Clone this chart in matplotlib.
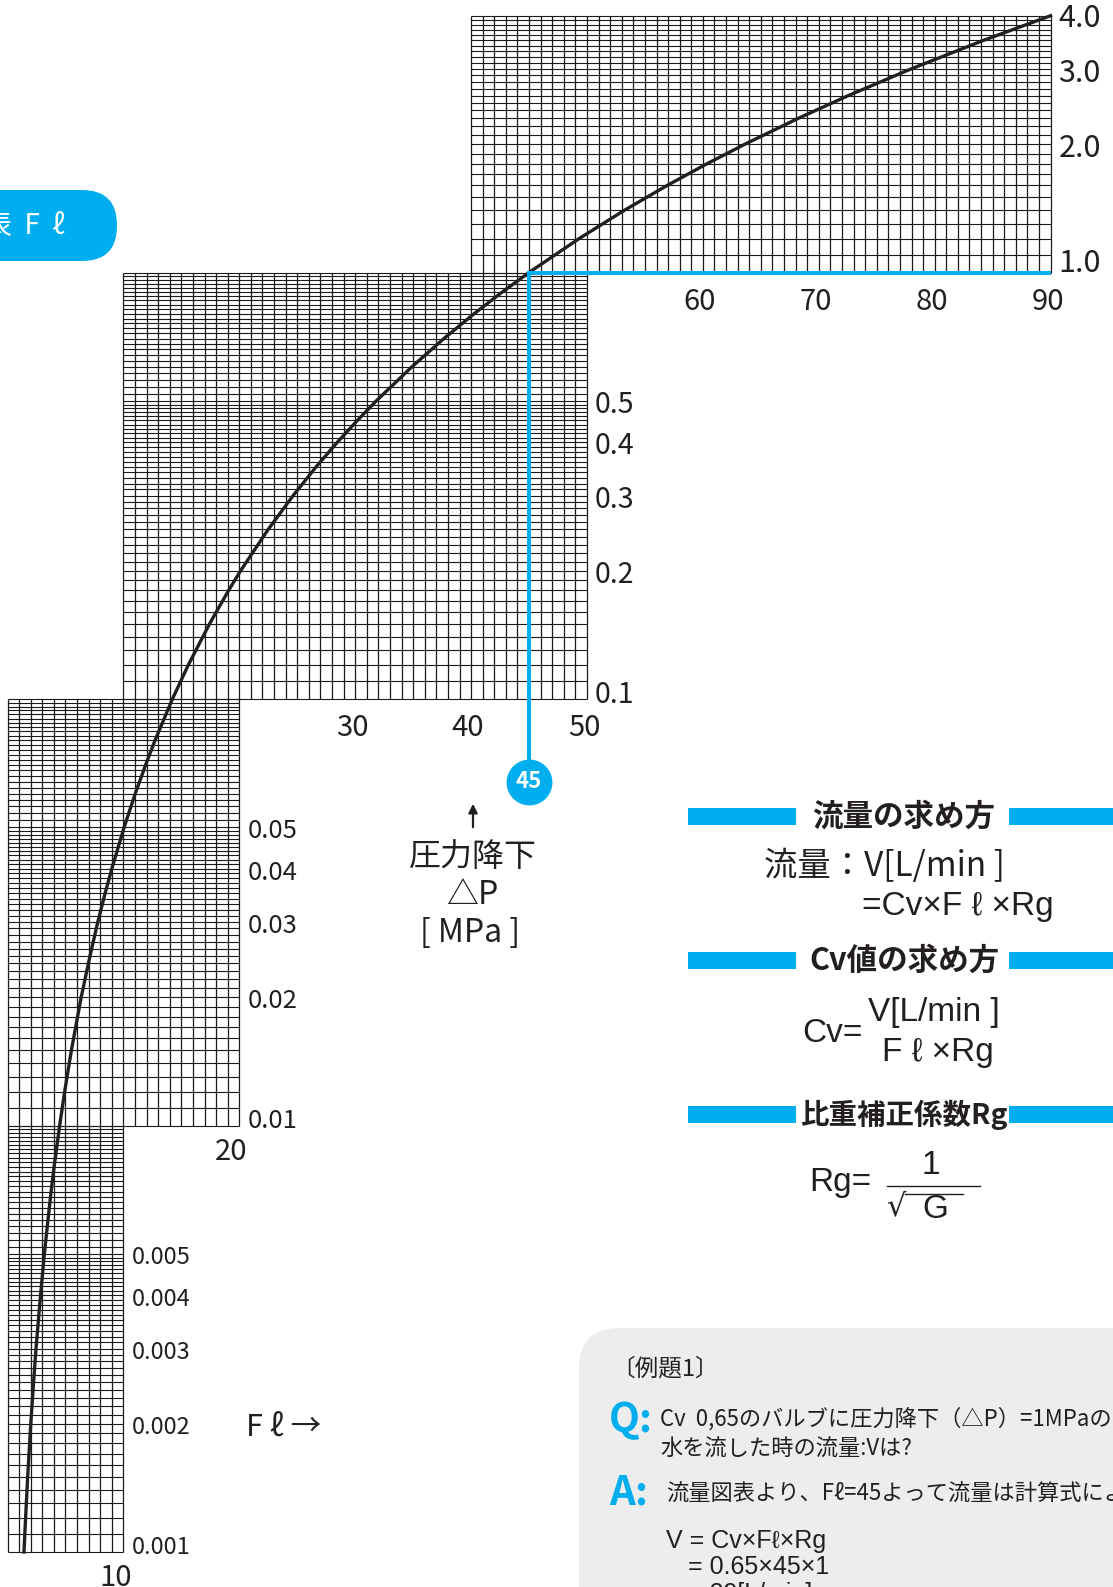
import numpy as np
import matplotlib.pyplot as plt
import matplotlib.transforms as mtransforms
from matplotlib.patches import FancyBboxPatch, Rectangle

plt.rcParams['font.family'] = ['Noto Sans CJK JP', 'DejaVu Sans']
LATIN = ['Liberation Sans', 'DejaVu Sans']

# curve: pressure drop dP [MPa] -> Fl
DP = [0.001, 0.0012, 0.0015, 0.002, 0.0025, 0.003, 0.004, 0.005, 0.006, 0.007, 0.008,
      0.01, 0.012, 0.015, 0.02, 0.025, 0.03, 0.035, 0.04, 0.05, 0.06, 0.07, 0.08,
      0.1, 0.12, 0.15, 0.18, 0.2, 0.25, 0.3, 0.35, 0.4, 0.45, 0.5, 0.6, 0.7, 0.8, 0.9,
      1.0, 1.2, 1.4, 1.6, 1.8, 2.0, 2.3, 2.6, 3.0, 3.5, 4.0]
FL = [1.42, 1.56, 1.74, 2.01, 2.25, 2.46, 2.85, 3.18, 3.49, 3.76, 4.02,
      4.50, 4.93, 5.51, 6.36, 7.12, 7.79, 8.42, 9.00, 10.06, 11.02, 11.91, 12.73,
      14.23, 15.59, 17.43, 19.09, 20.12, 22.50, 24.65, 26.62, 28.46, 30.19, 31.82, 34.86,
      37.65, 40.25, 42.69,
      45.00, 49.30, 53.24, 56.92, 60.37, 63.64, 68.25, 72.56, 77.94, 84.19, 90.00]

# the four staircase panels
PANEL_FL_LO = [40, 10, 0, 0]
PANEL_FL_HI = [90, 50, 20, 10]
PANEL_DP_LO = [1.0, 0.1, 0.01, 0.001]
PANEL_DP_HI = [4.0, 1.0, 0.1, 0.01]

YTICKS = [[1.0, 2.0, 3.0, 4.0],
          [0.1, 0.2, 0.3, 0.4, 0.5],
          [0.01, 0.02, 0.03, 0.04, 0.05],
          [0.001, 0.002, 0.003, 0.004, 0.005]]
YLABELS = [['1.0', '2.0', '3.0', '4.0'],
           ['0.1', '0.2', '0.3', '0.4', '0.5'],
           ['0.01', '0.02', '0.03', '0.04', '0.05'],
           ['0.001', '0.002', '0.003', '0.004', '0.005']]
XTICKS = [[60, 70, 80, 90], [30, 40, 50], [20], [10]]

EXAMPLE_FL = 45
EXAMPLE_DP = 1.0

BLUE = '#00aeef'
GRID = '#1a1a1a'
DARK = '#231f20'
W, H = 1113, 1587

# pixel geometry of the scales
PX_PER_FL = 11.59
FL0_PX = 7.5
DEC_PX = 426.5
ONE_PX = 272.5

fig = plt.figure(figsize=(W / 100, H / 100), dpi=100)
ax = fig.add_axes([0, 0, 1, 1])
ax.set_yscale('log')
ax.set_xlim(-FL0_PX / PX_PER_FL, (W - FL0_PX) / PX_PER_FL)
ax.set_ylim(10 ** (-(H - ONE_PX) / DEC_PX), 10 ** (ONE_PX / DEC_PX))
ax.axis('off')

def off(dx, dy):
    # offset in pixels, dy positive = down
    return mtransforms.offset_copy(ax.transData, fig=fig, x=dx, y=-dy, units='dots')

label_sizes = [22, 20.5, 18.5, 17]
xlab_dx = [-3, -3, -8, -8]
xlab_dy = [29, 29, 27, 26]

# log paper rulings: 0.1 steps up to 5, 0.2 steps above
mant = np.r_[np.arange(10, 50), np.arange(50, 101, 2)] / 10

for i in range(4):
    lo, hi = PANEL_FL_LO[i], PANEL_FL_HI[i]
    dlo, dhi = PANEL_DP_LO[i], PANEL_DP_HI[i]
    xs = np.arange(lo, hi + 1)
    ax.vlines(xs, dlo, dhi, color=GRID, lw=0.9, zorder=1)
    ys = dlo * mant
    ys = ys[ys <= dhi * 1.0001]
    ax.hlines(ys, lo, hi, color=GRID, lw=0.8, zorder=1)

    for v, s in zip(YTICKS[i], YLABELS[i]):
        if v == 1.0:
            dy = -9
        elif abs(v - dlo) < 1e-12:
            dy = -4
        elif v == 4.0:
            dy = 3
        else:
            dy = 4
        ax.text(hi, v, s, fontsize=label_sizes[i], ha='left', va='center',
                color=DARK, transform=off(8, dy))
    for v in XTICKS[i]:
        ax.text(v, dlo, str(v), fontsize=21, ha='center', va='center',
                color=DARK, transform=off(xlab_dx[i], xlab_dy[i]))

ax.plot(FL, DP, color=DARK, lw=2.4, zorder=3, solid_joinstyle='round')

# example reading: dP = 1 MPa -> Fl = 45
circle_dp = 0.064
ax.plot([EXAMPLE_FL, PANEL_FL_HI[0]], [EXAMPLE_DP, EXAMPLE_DP], color=BLUE, lw=2.9, zorder=4,
        solid_capstyle='butt')
ax.plot([EXAMPLE_FL, EXAMPLE_FL], [EXAMPLE_DP, circle_dp], color=BLUE, lw=2.9, zorder=4)
ax.plot([EXAMPLE_FL], [circle_dp], 'o', ms=32, mfc=BLUE, mec=BLUE, zorder=5)
ax.text(EXAMPLE_FL, circle_dp, str(EXAMPLE_FL), color='white', fontsize=16, fontweight='bold',
        ha='center', va='center', zorder=6)

# overlay in pixel coordinates for the page decoration
ov = fig.add_axes([0, 0, 1, 1])
ov.set_xlim(0, W)
ov.set_ylim(H, 0)
ov.axis('off')
ov.patch.set_alpha(0)

# title tab (cut at the left edge)
ov.add_patch(FancyBboxPatch((-80, 190), 197, 71, boxstyle='round,pad=0,rounding_size=35',
                            fc=BLUE, ec='none'))
ov.text(65, 226, '流量図表  F  ℓ', color='white', fontsize=20, ha='right', va='center')

# dP axis caption
ov.annotate('', xy=(473, 801), xytext=(473, 830),
            arrowprops=dict(arrowstyle='-|>', color=DARK, lw=1.6, mutation_scale=13))
ov.text(472.5, 857, '圧力降下', fontsize=23, ha='center', va='center', color=DARK)
ov.text(472.5, 895, '△P', fontsize=23, ha='center', va='center', color=DARK)
ov.text(470, 933, '[ MPa ]', fontsize=23, ha='center', va='center', color=DARK)

ov.text(246, 1427, 'F ℓ →', fontsize=22, ha='left', va='center', color=DARK)

# formulas on the right
for yc, title, fs in [(816, '流量の求め方', 22), (960, 'Cv値の求め方', 22),
                      (1114, '比重補正係数Rg', 20.5)]:
    ov.add_patch(Rectangle((688, yc - 8.5), 108, 17, fc=BLUE, ec='none'))
    ov.add_patch(Rectangle((1009, yc - 8.5), 110, 17, fc=BLUE, ec='none'))
    ov.text(904, yc + 1, title, fontsize=fs, fontweight='bold', ha='center', va='center',
            color=DARK)

ov.text(764, 866, '流量：V[L/min ]', fontsize=24, ha='left', va='center', color=DARK)
ov.text(1054, 907, '=Cv×F ℓ ×Rg', fontsize=24, ha='right', va='center', color=DARK,
        family=LATIN)

ov.text(802, 1033, 'Cv=', fontsize=24, ha='left', va='center', color=DARK, family=LATIN)
ov.text(868, 1013, 'V[L/min ]', fontsize=24, ha='left', va='center', color=DARK, family=LATIN)
ov.text(882, 1053, 'F ℓ ×Rg', fontsize=24, ha='left', va='center', color=DARK, family=LATIN)

ov.text(809, 1183, 'Rg=', fontsize=24, ha='left', va='center', color=DARK, family=LATIN)
ov.text(931, 1166, '1', fontsize=24, ha='center', va='center', color=DARK, family=LATIN)
ov.plot([887, 980], [1186, 1186], color=DARK, lw=1.0)
ov.text(886, 1207, '√', fontsize=22, ha='left', va='center', color=DARK,
        family=['DejaVu Sans'])
ov.plot([905, 963], [1194, 1194], color=DARK, lw=1.0)
ov.text(935, 1210, 'G', fontsize=24, ha='center', va='center', color=DARK, family=LATIN)

# example box
ov.add_patch(FancyBboxPatch((579, 1328), 620, 320, boxstyle='round,pad=0,rounding_size=40',
                            fc='#ededed', ec='none'))
ov.text(611, 1369, '〔例題1〕', fontsize=17, ha='left', va='center', color=DARK)
ov.text(609, 1421, 'Q:', fontsize=29, fontweight='bold', ha='left', va='center', color=BLUE)
ov.text(660, 1419, 'Cv  0,65のバルブに圧力降下（△P）=1MPaの', fontsize=16, ha='left',
        va='center', color=DARK)
ov.text(660, 1449, '水を流した時の流量:Vは?', fontsize=16, ha='left', va='center', color=DARK)
ov.text(609, 1493, 'A:', fontsize=29, fontweight='bold', ha='left', va='center', color=BLUE)
ov.text(666, 1494, '流量図表より、Fℓ=45よって流量は計算式により', fontsize=16, ha='left',
        va='center', color=DARK)
ov.text(666, 1541, 'V = Cv×Fℓ×Rg', fontsize=18, ha='left', va='center', color=DARK,
        family=LATIN)
ov.text(688, 1567, '= 0.65×45×1', fontsize=18, ha='left', va='center', color=DARK,
        family=LATIN)
ov.text(688, 1594, '= 29[L/min]', fontsize=18, ha='left', va='center', color=DARK,
        family=LATIN)

fig.savefig('out.png', dpi=100)
